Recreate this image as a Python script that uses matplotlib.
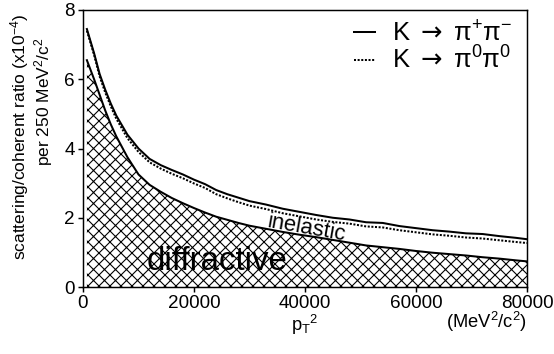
import matplotlib
matplotlib.use("Agg")
import matplotlib.pyplot as plt

# p_T^2 in MeV^2/c^2
pt2 = [700, 2000, 3000, 4000, 5000, 6000, 8000, 10000, 12000, 14000, 16000,
       18000, 20000, 22000, 24000, 26000, 28000, 30000, 33000, 36000, 39000,
       42000, 45000, 48000, 51000, 54000, 57000, 60000, 63000, 66000, 69000,
       72000, 75000, 78000, 80000]

# scattering/coherent ratio (x1e-4) per 250 MeV^2/c^2
charged = [7.45, 6.75, 6.15, 5.70, 5.30, 4.95, 4.40, 4.00, 3.70, 3.52, 3.38,
           3.25, 3.10, 2.97, 2.80, 2.68, 2.58, 2.48, 2.38, 2.26, 2.17,
           2.08, 2.00, 1.95, 1.87, 1.85, 1.76, 1.70, 1.64, 1.60, 1.55,
           1.53, 1.47, 1.42, 1.38]
neutral = [7.40, 6.70, 6.08, 5.62, 5.22, 4.86, 4.30, 3.90, 3.60, 3.42, 3.27,
           3.14, 2.99, 2.86, 2.68, 2.56, 2.45, 2.35, 2.25, 2.13, 2.04,
           1.95, 1.88, 1.83, 1.75, 1.72, 1.64, 1.58, 1.52, 1.48, 1.43,
           1.40, 1.35, 1.30, 1.27]
diffractive = [6.55, 6.00, 5.55, 5.10, 4.70, 4.35, 3.75, 3.25, 2.95, 2.75, 2.57,
               2.42, 2.28, 2.15, 2.03, 1.94, 1.85, 1.77, 1.68, 1.59, 1.51,
               1.44, 1.36, 1.28, 1.20, 1.15, 1.10, 1.04, 0.99, 0.95, 0.91,
               0.86, 0.82, 0.77, 0.74]

xticks = [0, 20000, 40000, 60000, 80000]
yticks = [0, 2, 4, 6, 8]

plt.rcParams['font.family'] = ['Liberation Sans', 'DejaVu Sans']
plt.rcParams['mathtext.fontset'] = 'custom'
plt.rcParams['mathtext.rm'] = 'Liberation Sans'
plt.rcParams['mathtext.it'] = 'Liberation Sans:italic'
plt.rcParams['mathtext.sf'] = 'DejaVu Sans'   # used for the arrow only
plt.rcParams['mathtext.default'] = 'regular'
plt.rcParams['hatch.linewidth'] = 0.6

dpi = 132
fig = plt.figure(figsize=(554 / dpi, 354 / dpi), dpi=dpi)
ax = fig.add_axes([83 / 554, 1 - 287 / 354, 444 / 554, 277 / 354])

# hatched diffractive region
ax.fill_between(pt2, 0, diffractive, facecolor='white', edgecolor='black',
                hatch='xxxx', linewidth=0)
ax.plot(pt2, diffractive, color='black', lw=1.1)
l1, = ax.plot(pt2, charged, color='black', lw=1.1)
l2, = ax.plot(pt2, neutral, color='black', lw=1.1, linestyle=(0, (1.0, 0.8)))

ax.set_xlim(0, 80000)
ax.set_ylim(0, 8)
ax.set_xticks(xticks)
ax.set_xticklabels([str(t) for t in xticks])
ax.set_yticks(yticks)
ax.set_yticklabels([str(t) for t in yticks])
ax.tick_params(direction='out', length=2.8, width=0.8, labelsize=10.3, pad=1.5)
for s in ax.spines.values():
    s.set_linewidth(0.8)

ax.text(24100, 0.49, 'diffractive', fontsize=18, ha='center', va='baseline')
ax.text(40300, 1.68, 'inelastic', fontsize=12, rotation=-10,
        ha='center', va='center')

ax.set_xlabel('p$_T$$^2$', fontsize=10, labelpad=0.5)
ax.text(1.0, -0.125, '(MeV$^2$/c$^2$)', fontsize=10, ha='right', va='center',
        transform=ax.transAxes)

fig.text(20 / 554, 1 - 137 / 354, 'scattering/coherent ratio (x10$^{-4}$)',
         fontsize=9.5, rotation=90, ha='center', va='center')
fig.text(44 / 554, 1 - 102 / 354, 'per 250 MeV$^2$/c$^2$',
         fontsize=9.5, rotation=90, ha='center', va='center')

ax.legend([l1, l2],
          [r'K $\mathsf{\rightarrow}$ π$^{+}$π$^{-}$',
           r'K $\mathsf{\rightarrow}$ π$^{0}$π$^{0}$'],
          loc='upper right', bbox_to_anchor=(0.966, 0.96), frameon=False,
          fontsize=14, handlelength=0.82, handletextpad=0.66,
          labelspacing=0.0, borderpad=0, borderaxespad=0)

fig.savefig('out.png', dpi=dpi)
